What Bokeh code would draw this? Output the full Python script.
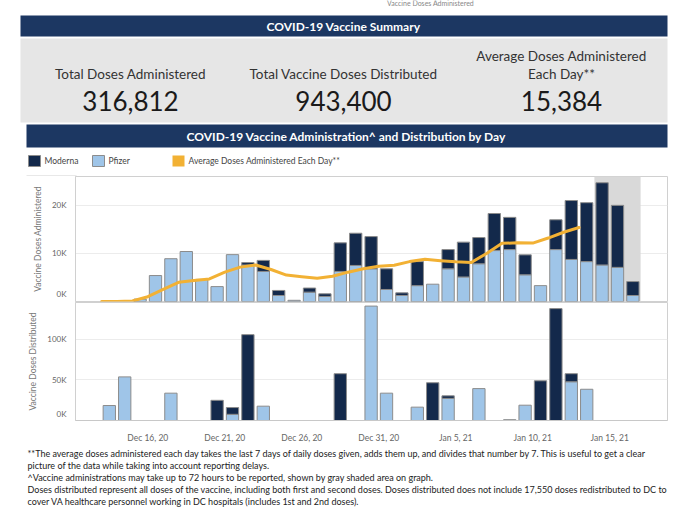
import pandas as pd
from bokeh.plotting import figure
from bokeh.models import Range1d, FixedTicker, BoxAnnotation, ColumnDataSource
from bokeh.layouts import column
from bokeh.embed import file_html
from bokeh.resources import INLINE
from bokeh.core.properties import value

# ---------------- data ----------------
dates = pd.date_range("2020-12-13", "2021-01-16").strftime("%Y-%m-%d").tolist()

moderna_admin = [0, 0, 0, 0, 0, 0, 0, 0, 0, 500, 2300, 1050, 0, 850, 550, 5950, 6700, 6700,
                 4300, 550, 5000, 0, 4000, 7250, 5450, 7700, 6700, 4150, 0, 6200, 12250,
                 12250, 17100, 12900, 2900]
pfizer_admin = [0, 0, 500, 5400, 8900, 10400, 4600, 3100, 9750, 7600, 6250, 1250, 250, 1950,
                1050, 6250, 7500, 6800, 2500, 1250, 3300, 3600, 6800, 5100, 7850, 10600, 10800,
                5550, 3300, 10800, 8750, 8300, 7600, 7100, 1250]
avg_dates = dates[:32]
avg_admin = [0, 0, 100, 1000, 2500, 4000, 4350, 4700, 6100, 7150, 7600, 6650, 5500, 5150,
             4850, 5250, 6100, 6800, 7350, 7550, 8300, 8800, 8500, 8250, 8100, 10000, 12100,
             12200, 12150, 13200, 14400, 15384]
moderna_dist = [0, 0, 0, 0, 0, 0, 0, 24800, 8300, 105500, 0, 0, 0, 0, 0, 57500, 0, 0, 0, 0, 0,
                46400, 3100, 0, 0, 0, 0, 0, 48800, 137500, 9900, 0, 0, 0, 0]
pfizer_dist = [18400, 53600, 0, 0, 33600, 0, 0, 0, 7600, 0, 17600, 0, 0, 0, 0, 0, 0, 140600,
               33600, 0, 16400, 0, 27200, 0, 39200, 0, 1000, 18800, 0, 0, 47600, 38400, 0, 0, 0]
shaded_dates = ["2021-01-14", "2021-01-16"]
tick_dates = ["2020-12-16", "2020-12-21", "2020-12-26", "2020-12-31", "2021-01-05",
              "2021-01-10", "2021-01-15"]
tick_labels = ["Dec 16, 20", "Dec 21, 20", "Dec 26, 20", "Dec 31, 20", "Jan 5, 21",
               "Jan 10, 21", "Jan 15, 21"]
admin_ticks = ["0K", "10K", "20K"]
dist_ticks = ["0K", "50K", "100K"]

summary_labels = ["Total Doses Administered", "Total Vaccine Doses Distributed",
                  "Average Doses Administered\nEach Day**"]
summary_values = ["316,812", "943,400", "15,384"]

footnotes = [
    "**The average doses administered each day takes the last 7 days of daily doses given, adds them up, and divides that number by 7. This is useful to get a clear",
    "picture of the data while taking into account reporting delays.",
    "^Vaccine administrations may take up to 72 hours to be reported, shown by gray shaded area on graph.",
    "Doses distributed represent all doses of the vaccine, including both first and second doses.  Doses distributed does not include 17,550 doses redistributed to DC to",
    "cover VA healthcare personnel working in DC hospitals (includes 1st and 2nd doses).",
]

# ---------------- styles ----------------
FONT = value("Lato")
NAVY = "#1c3762"
MOD = "#13294b"
PFZ = "#9fc5e8"
ORANGE = "#f2b134"
EDGE = "#8c8c8c"
FRAME = "#d0d0d0"
W = 690

idx = {d: i for i, d in enumerate(dates)}
xs = list(range(len(dates)))


def canvas(h, y0, y1):
    p = figure(width=W, height=h, x_range=Range1d(0, W), y_range=Range1d(y1, y0),
               x_axis_location=None, y_axis_location=None, output_backend="svg",
               toolbar_location=None, min_border=0, outline_line_color=None,
               frame_align=False)
    p.grid.visible = False
    return p


# ---------------- header ----------------
hdr = canvas(176, 0, 176)
hdr.text(x=[430], y=[6], text=["Vaccine Doses Administered"], text_font=FONT,
         text_font_size="7px", text_color="#888888", text_align="center", text_baseline="bottom")
hdr.quad(left=[20], right=[667], top=[15], bottom=[36], fill_color=NAVY, line_color=None)
hdr.quad(left=[20], right=[667], top=[38], bottom=[122], fill_color="#e6e6e6", line_color=None)
hdr.quad(left=[26], right=[667], top=[124], bottom=[147], fill_color=NAVY, line_color=None)
hdr.text(x=[343], y=[26], text=["COVID-19 Vaccine Summary"], text_font=FONT,
         text_font_size="12px", text_font_style="bold", text_color="white",
         text_align="center", text_baseline="middle")
hdr.text(x=[346], y=[136], text=["COVID-19 Vaccine Administration^ and Distribution by Day"],
         text_font=FONT, text_font_size="12px", text_font_style="bold", text_color="white",
         text_align="center", text_baseline="middle")
cx = [130, 343, 561]
for c, lab, val in zip(cx, summary_labels, summary_values):
    lines = lab.split("\n")
    for k, ln in enumerate(lines):
        hdr.text(x=[c], y=[73 - 18 * (len(lines) - 1 - k)], text=[ln], text_font=FONT,
                 text_font_size="13.5px", text_color="#333333", text_align="center",
                 text_baseline="middle")
    hdr.text(x=[c], y=[100], text=[val], text_font=FONT, text_font_size="26px",
             text_color="#1a1a1a", text_align="center", text_baseline="middle")
# legend
leg = [(28, MOD, "Moderna"), (92, PFZ, "Pfizer"), (172, ORANGE, "Average Doses Administered Each Day**")]
for lx, col, lab in leg:
    hdr.quad(left=[lx], right=[lx + 12], top=[155], bottom=[166], fill_color=col,
             line_color=EDGE if col != ORANGE else None, line_width=1)
    hdr.text(x=[lx + 16], y=[160.5], text=[lab], text_font=FONT, text_font_size="8.5px",
             text_color="#444444", text_align="left", text_baseline="middle")
# left extension of the chart frame's top line
hdr.segment(x0=[26], y0=[175.5], x1=[76], y1=[175.5], line_color=FRAME, line_width=1)

# ---------------- charts ----------------
x0 = (75 - 108.8) / 15.4
x1 = (667 - 108.8) / 15.4
xr = Range1d(x0, x1)


def stacked(p, pf, md):
    pf_src = ColumnDataSource(dict(x=[x for x, v in zip(xs, pf) if v > 0],
                                   top=[v for v in pf if v > 0]))
    md_src = ColumnDataSource(dict(x=[x for x, v in zip(xs, md) if v > 0],
                                   bottom=[a for a, v in zip(pf, md) if v > 0],
                                   top=[a + v for a, v in zip(pf, md) if v > 0]))
    p.vbar(x="x", top="top", bottom=0, width=0.8, source=pf_src, fill_color=PFZ,
           line_color=EDGE, line_width=1)
    p.vbar(x="x", top="top", bottom="bottom", width=0.8, source=md_src, fill_color=MOD,
           line_color=EDGE, line_width=1)


def style_y(p, title, ticks, labels, grid):
    p.yaxis.ticker = FixedTicker(ticks=ticks)
    p.yaxis.major_label_overrides = {t: l for t, l in zip(ticks, labels)}
    p.yaxis.axis_label = title
    p.yaxis.axis_label_text_font = "Lato"
    p.yaxis.axis_label_text_font_size = "8.5px"
    p.yaxis.axis_label_text_font_style = "normal"
    p.yaxis.axis_label_text_color = "#777777"
    p.yaxis.axis_label_standoff = 6
    p.yaxis.major_label_text_font = "Lato"
    p.yaxis.major_label_text_font_size = "8px"
    p.yaxis.major_label_text_color = "#666666"
    p.yaxis.major_label_standoff = 3
    p.yaxis.major_tick_line_color = None
    p.yaxis.minor_tick_line_color = None
    p.yaxis.axis_line_color = FRAME
    p.ygrid.ticker = FixedTicker(ticks=grid)
    p.ygrid.grid_line_color = "#ececec"
    p.xgrid.grid_line_color = None
    p.outline_line_color = FRAME


top = figure(width=W, height=126, x_range=xr, y_range=Range1d(0, 26000), x_axis_location=None,
             output_backend="svg", toolbar_location=None, min_border_left=75,
             min_border_right=23, min_border_top=0, min_border_bottom=1, frame_align=False)
top.add_layout(BoxAnnotation(left=idx[shaded_dates[0]] - 0.5, right=idx[shaded_dates[1]] + 0.5,
                             fill_color="#d9d9d9", fill_alpha=1, line_color=None, level="underlay"))
stacked(top, pfizer_admin, moderna_admin)
top.line(x=[idx[d] - 0.5 for d in avg_dates], y=avg_admin, line_color=ORANGE, line_width=3,
         line_join="round", line_cap="round")
style_y(top, "Vaccine Doses Administered", [1600, 10000, 20000], admin_ticks, [10000, 20000])

bot = figure(width=W, height=143, x_range=xr, y_range=Range1d(0, 145000),
             output_backend="svg", toolbar_location=None, min_border_left=75,
             min_border_right=23, min_border_top=0, min_border_bottom=22, frame_align=False)
stacked(bot, pfizer_dist, moderna_dist)
style_y(bot, "Vaccine Doses Distributed", [7500, 50000, 100000], dist_ticks, [50000, 100000])
tpos = [idx[d] - 0.5 for d in tick_dates]
bot.xaxis.ticker = FixedTicker(ticks=tpos)
bot.xaxis.major_label_overrides = {t: l for t, l in zip(tpos, tick_labels)}
bot.xaxis.major_label_text_font = "Lato"
bot.xaxis.major_label_text_font_size = "8.5px"
bot.xaxis.major_label_text_color = "#666666"
bot.xaxis.major_label_standoff = 6
bot.xaxis.major_tick_line_color = None
bot.xaxis.minor_tick_line_color = None
bot.xaxis.axis_line_color = "#c8c8c8"

# ---------------- footer ----------------
ftr = canvas(72, 445, 517)
for k, t in enumerate(footnotes):
    ftr.text(x=[27], y=[453 + 12 * k], text=[t], text_font=FONT, text_font_size="9px",
             text_color="#222222", text_align="left", text_baseline="middle")

layout = column(hdr, top, bot, ftr, spacing=0)
open("out.html", "w").write(file_html(layout, INLINE))
